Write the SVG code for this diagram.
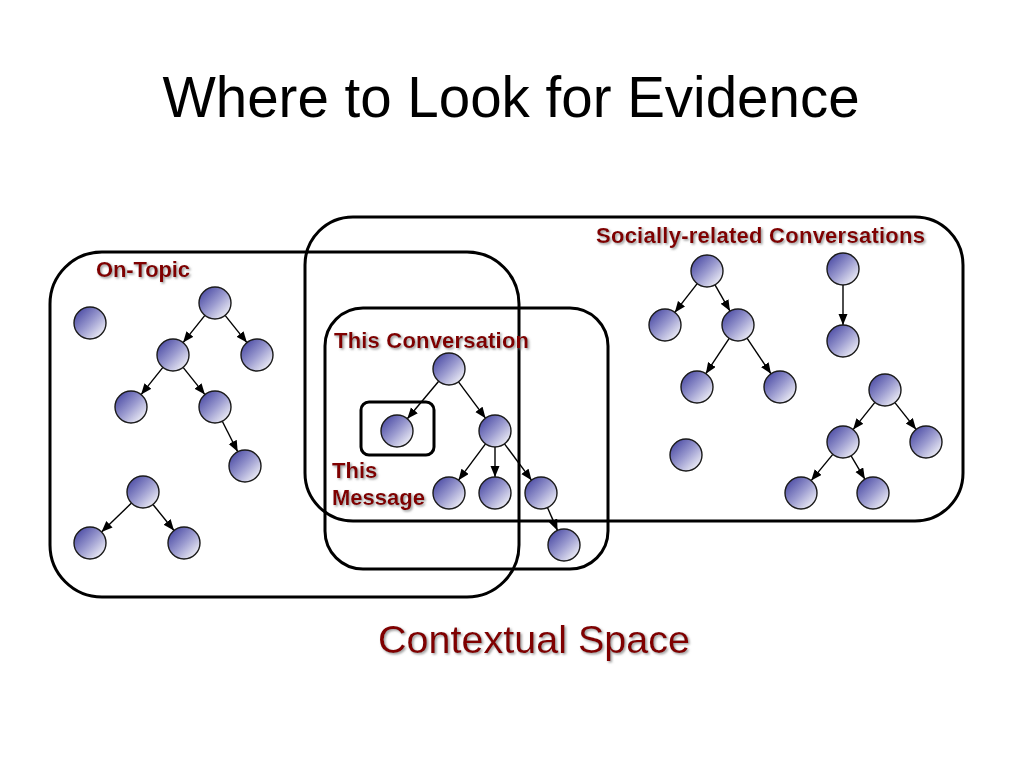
<svg xmlns="http://www.w3.org/2000/svg" width="1024" height="768" viewBox="0 0 1024 768">
<defs>
  <linearGradient id="nodeGrad" x1="0" y1="0" x2="1" y2="1">
    <stop offset="0" stop-color="#38389a"/>
    <stop offset="0.5" stop-color="#9a9acf"/>
    <stop offset="0.9" stop-color="#f2f2f8"/>
    <stop offset="1" stop-color="#ffffff"/>
  </linearGradient>
  <marker id="arrow" markerUnits="userSpaceOnUse" markerWidth="12" markerHeight="10" refX="11" refY="4.5" orient="auto">
    <path d="M0,0 L11,4.5 L0,9 z" fill="#000"/>
  </marker>
  <filter id="shadow" x="-10%" y="-30%" width="120%" height="160%">
    <feDropShadow dx="1.5" dy="1.5" stdDeviation="0.8" flood-color="#808080" flood-opacity="0.8"/>
  </filter>
</defs>
<style>
  .box { fill: none; stroke: #000; stroke-width: 3; }
  .node circle { fill: url(#nodeGrad); stroke: #1a1a1a; stroke-width: 1.4; }
  .edge { stroke: #000; stroke-width: 1.4; fill: none; marker-end: url(#arrow); }
  .lbl { font-family: "Liberation Sans", Arial, sans-serif; font-weight: bold; font-size: 22px; fill: #800000; filter: url(#shadow); }
  .title { font-family: "Liberation Sans", Arial, sans-serif; font-size: 56.5px; fill: #000; }
  .sub { font-family: "Liberation Sans", Arial, sans-serif; font-size: 39.5px; fill: #800000; filter: url(#shadow); }
</style>
<rect width="1024" height="768" fill="#fff"/>

<text class="title" x="511" y="117" text-anchor="middle">Where to Look for Evidence</text>

<g id="regions">
  <rect id="on-topic-box" class="box" x="50" y="252" width="469" height="345" rx="52"/>
  <rect id="social-box" class="box" x="305" y="217" width="658" height="304" rx="48"/>
  <rect id="conversation-box" class="box" x="325" y="308" width="283" height="261" rx="38"/>
  <rect id="message-box" class="box" x="361" y="402" width="73" height="53" rx="8"/>
</g>

<g id="connectors">
  <line class="edge" x1="204.9" y1="315.4" x2="183.1" y2="342.6"/>
  <line class="edge" x1="225.1" y1="315.4" x2="246.9" y2="342.6"/>
  <line class="edge" x1="162.9" y1="367.4" x2="141.1" y2="394.6"/>
  <line class="edge" x1="183.1" y1="367.4" x2="204.9" y2="394.6"/>
  <line class="edge" x1="222.3" y1="421.3" x2="237.7" y2="451.7"/>
  <line class="edge" x1="131.5" y1="503.1" x2="101.5" y2="531.9"/>
  <line class="edge" x1="153.0" y1="504.5" x2="174.0" y2="530.5"/>

  <line class="edge" x1="438.7" y1="381.3" x2="407.3" y2="418.7"/>
  <line class="edge" x1="458.5" y1="381.8" x2="485.5" y2="418.2"/>
  <line class="edge" x1="485.5" y1="443.8" x2="458.5" y2="480.2"/>
  <line class="edge" x1="495" y1="447" x2="495" y2="477"/>
  <line class="edge" x1="504.5" y1="443.8" x2="531.5" y2="480.2"/>
  <line class="edge" x1="547.5" y1="507.6" x2="557.5" y2="530.4"/>

  <line class="edge" x1="697.2" y1="283.6" x2="674.8" y2="312.4"/>
  <line class="edge" x1="715.0" y1="284.9" x2="730.0" y2="311.1"/>
  <line class="edge" x1="729.2" y1="338.3" x2="705.8" y2="373.7"/>
  <line class="edge" x1="747.0" y1="338.2" x2="771.0" y2="373.8"/>
  <line class="edge" x1="843" y1="285" x2="843" y2="325"/>
  <line class="edge" x1="874.9" y1="402.4" x2="853.1" y2="429.6"/>
  <line class="edge" x1="894.9" y1="402.6" x2="916.1" y2="429.4"/>
  <line class="edge" x1="832.8" y1="454.4" x2="811.2" y2="480.6"/>
  <line class="edge" x1="851.1" y1="455.8" x2="864.9" y2="479.2"/>
</g>

<g id="nodes">
  <g id="ot-iso" class="node"><circle cx="90" cy="323" r="16"/></g>
  <g id="ot-a" class="node"><circle cx="215" cy="303" r="16"/></g>
  <g id="ot-b" class="node"><circle cx="173" cy="355" r="16"/></g>
  <g id="ot-c" class="node"><circle cx="257" cy="355" r="16"/></g>
  <g id="ot-d" class="node"><circle cx="131" cy="407" r="16"/></g>
  <g id="ot-e" class="node"><circle cx="215" cy="407" r="16"/></g>
  <g id="ot-f" class="node"><circle cx="245" cy="466" r="16"/></g>
  <g id="ot-g" class="node"><circle cx="143" cy="492" r="16"/></g>
  <g id="ot-h" class="node"><circle cx="90" cy="543" r="16"/></g>
  <g id="ot-i" class="node"><circle cx="184" cy="543" r="16"/></g>

  <g id="tc-root" class="node"><circle cx="449" cy="369" r="16"/></g>
  <g id="tc-msg" class="node"><circle cx="397" cy="431" r="16"/></g>
  <g id="tc-m" class="node"><circle cx="495" cy="431" r="16"/></g>
  <g id="tc-c1" class="node"><circle cx="449" cy="493" r="16"/></g>
  <g id="tc-c2" class="node"><circle cx="495" cy="493" r="16"/></g>
  <g id="tc-c3" class="node"><circle cx="541" cy="493" r="16"/></g>
  <g id="tc-c4" class="node"><circle cx="564" cy="545" r="16"/></g>

  <g id="sr-a" class="node"><circle cx="707" cy="271" r="16"/></g>
  <g id="sr-b" class="node"><circle cx="665" cy="325" r="16"/></g>
  <g id="sr-c" class="node"><circle cx="738" cy="325" r="16"/></g>
  <g id="sr-d" class="node"><circle cx="697" cy="387" r="16"/></g>
  <g id="sr-e" class="node"><circle cx="780" cy="387" r="16"/></g>
  <g id="sr-f" class="node"><circle cx="843" cy="269" r="16"/></g>
  <g id="sr-g" class="node"><circle cx="843" cy="341" r="16"/></g>
  <g id="sr-h" class="node"><circle cx="885" cy="390" r="16"/></g>
  <g id="sr-i" class="node"><circle cx="843" cy="442" r="16"/></g>
  <g id="sr-j" class="node"><circle cx="926" cy="442" r="16"/></g>
  <g id="sr-k" class="node"><circle cx="801" cy="493" r="16"/></g>
  <g id="sr-l" class="node"><circle cx="873" cy="493" r="16"/></g>
  <g id="sr-iso" class="node"><circle cx="686" cy="455" r="16"/></g>
</g>

<g id="labels">
  <text class="lbl" x="96" y="277" textLength="94">On-Topic</text>
  <text class="lbl" x="334" y="348" textLength="195">This Conversation</text>
  <text class="lbl" x="596" y="243" textLength="329">Socially-related Conversations</text>
  <text class="lbl" x="332" y="478">This</text>
  <text class="lbl" x="332" y="505">Message</text>
</g>

<text class="sub" x="534" y="653" text-anchor="middle">Contextual Space</text>
</svg>
